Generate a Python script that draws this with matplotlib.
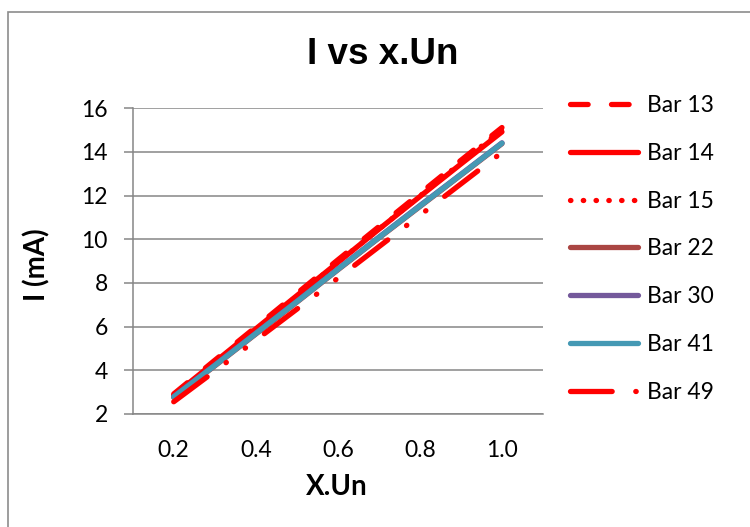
import matplotlib
matplotlib.use("Agg")
import matplotlib.pyplot as plt
from matplotlib.patches import Rectangle

x_un = [0.2, 0.3, 0.4, 0.5, 0.6, 0.7, 0.8, 0.9, 1.0]
bar13 = [2.92, 4.46, 5.98, 7.52, 9.06, 10.58, 12.10, 13.62, 15.12]
bar14 = [2.86, 4.38, 5.90, 7.42, 8.94, 10.46, 11.96, 13.45, 14.92]
bar15 = [2.82, 4.34, 5.86, 7.40, 8.94, 10.46, 11.98, 13.50, 15.02]
bar22 = [2.76, 4.20, 5.66, 7.12, 8.60, 10.06, 11.50, 12.94, 14.38]
bar30 = [2.80, 4.24, 5.70, 7.16, 8.64, 10.10, 11.55, 12.98, 14.42]
bar41 = [2.78, 4.22, 5.68, 7.14, 8.62, 10.08, 11.52, 12.96, 14.40]
bar49 = [2.56, 3.96, 5.38, 6.80, 8.22, 9.66, 11.10, 12.54, 13.98]
labels = ["Bar 13", "Bar 14", "Bar 15", "Bar 22", "Bar 30", "Bar 41", "Bar 49"]
y_ticks = [2, 4, 6, 8, 10, 12, 14, 16]
x_ticks = [0.2, 0.4, 0.6, 0.8, 1.0]

plt.rcParams['lines.scale_dashes'] = False
plt.rcParams['font.family'] = ['Lato', 'DejaVu Sans']

W, H = 750, 527
fig = plt.figure(figsize=(W / 100, H / 100), dpi=100)
fig.patch.set_facecolor('white')

# outer border (left/top visible)
fig.patches.append(Rectangle((8 / W, -0.1), 1.2, 1 - 12 / H + 0.1,
                             transform=fig.transFigure, fill=False,
                             edgecolor='#8c8c8c', linewidth=1.2, clip_on=False))

ax = fig.add_axes([132.7 / W, 1 - 414 / H, (543 - 132.7) / W, (414 - 108.3) / H])
ax.set_xlim(0.1, 1.1)
ax.set_ylim(2, 16)

lw = 3.8
styles = [
    dict(color='#FF0000', linestyle=(0, (12.7, 16.8))),
    dict(color='#FF0000', linestyle='-'),
    dict(color='#FF0000', linestyle=(0, (0.3, 8.9))),
    dict(color='#AA4643', linestyle='-'),
    dict(color='#74599B', linestyle='-'),
    dict(color='#4599B4', linestyle='-'),
    dict(color='#FF0000', linestyle=(0, (30, 17, 0.3, 17, 0.3, 17))),
]
series = [bar13, bar14, bar15, bar22, bar30, bar41, bar49]
handles = []
for s, st, lab in zip(series, styles, labels):
    h, = ax.plot(x_un, s, lw=lw, label=lab, solid_capstyle='round',
                 dash_capstyle='round', solid_joinstyle='round', **st)
    handles.append(h)

ax.set_yticks(y_ticks)
ax.set_xticks(x_ticks)
ax.set_xticklabels([f"{v:.1f}" for v in x_ticks])
ax.grid(axis='y', color='#868686', linewidth=1.1)
ax.set_axisbelow(True)
for sp in ['top', 'right']:
    ax.spines[sp].set_visible(False)
for sp in ['left', 'bottom']:
    ax.spines[sp].set_color('#868686')
    ax.spines[sp].set_linewidth(1.1)
ax.tick_params(axis='y', length=6.5, width=1.1, color='#868686', pad=11.5,
               labelsize=16.5, labelcolor='black')
ax.tick_params(axis='x', length=0, pad=19, labelsize=16.5, labelcolor='black')

fig.text(383 / W, 1 - 55 / H, "I vs x.Un", ha='center', va='center',
         fontsize=26.5, fontweight='bold', family=['Liberation Sans', 'DejaVu Sans'])
fig.text(337 / W, 1 - 487 / H, "X.Un", ha='center', va='center',
         fontsize=20, fontweight='bold')
fig.text(37 / W, 1 - 265 / H, "I (mA)", ha='center', va='center',
         fontsize=20, fontweight='bold', rotation=90)

leg = fig.legend(handles=handles, labels=labels, loc='upper left',
                 bbox_to_anchor=(570 / W, 1 - 95 / H), frameon=False,
                 fontsize=16.5, handlelength=2.95, handletextpad=0.42,
                 labelspacing=1.17, borderpad=0, borderaxespad=0)

fig.savefig("out.png", dpi=100, facecolor='white')
